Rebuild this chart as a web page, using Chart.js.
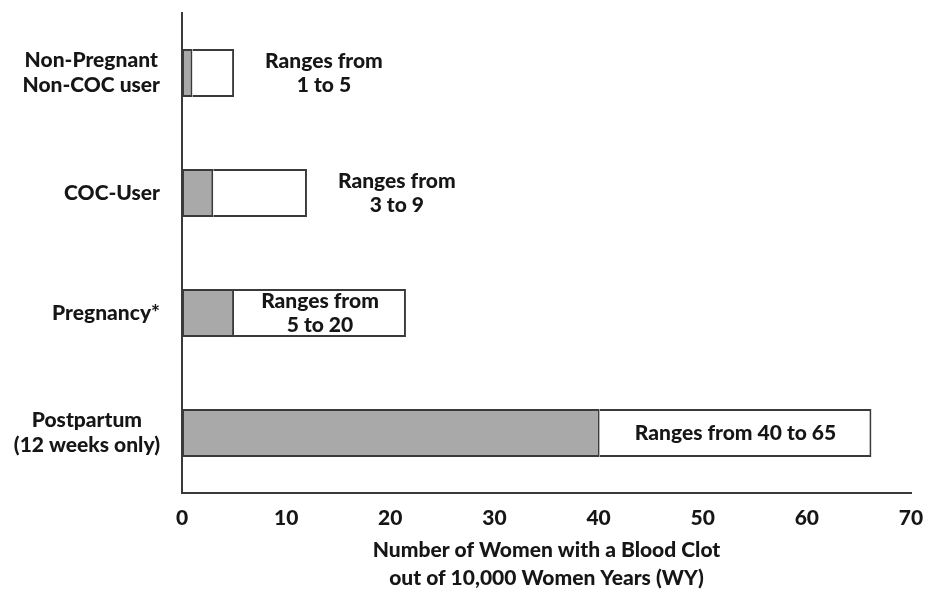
<!DOCTYPE html>
<html>
<head>
<meta charset="utf-8">
<script src="https://cdn.jsdelivr.net/npm/chart.js@4.4.1/dist/chart.umd.min.js"></script>
<style>
  html, body { margin: 0; padding: 0; background: #fff; }
  #wrap { width: 925px; height: 592px; position: relative; }
</style>
</head>
<body>
<div id="wrap"><canvas id="c" width="925" height="592"></canvas></div>
<script>
// ---- Data ----
const categories = [
  ['Non-Pregnant', 'Non-COC user'],
  ['COC-User'],
  ['Pregnancy*'],
  ['Postpartum', '(12 weeks only)']
];
const lowerValues = [1, 3, 5, 40.1];      // grey segment
const upperEnds   = [5, 12, 21.5, 66.2];  // end of white segment
const rangeLabels = [
  ['Ranges from', '1 to 5'],
  ['Ranges from', '3 to 9'],
  ['Ranges from', '5 to 20'],
  ['Ranges from 40 to 65']
];
const xMin = 0, xMax = 70, xStep = 10;
const xTitle = ['Number of Women with a Blood Clot', 'out of 10,000 Women Years (WY)'];

const upperValues = upperEnds.map((v, i) => v - lowerValues[i]);

const FONT = "Lato, 'Liberation Sans Narrow', 'DejaVu Sans Condensed', sans-serif";
const WEIGHT = 900;
const TEXT = '#161616';
const LINE = '#3a3a3a';

const labelPlugin = {
  id: 'customLabels',
  afterDatasetsDraw(chart) {
    const ctx = chart.ctx;
    const xs = chart.scales.x, ys = chart.scales.y;
    ctx.save();
    ctx.fillStyle = TEXT;
    ctx.textBaseline = 'middle';
    ctx.textAlign = 'center';
    ctx.font = WEIGHT + ' 21px ' + FONT;
    // category labels on the left: block right-aligned, lines centred
    const rightEdge = xs.left - 22;
    categories.forEach((lines, i) => {
      const cy = ys.getPixelForValue(i);
      const w = Math.max(...lines.map(t => ctx.measureText(t).width));
      const cx = rightEdge - w / 2;
      const lh = 25;
      lines.forEach((t, k) => {
        ctx.fillText(t, cx, cy + (k - (lines.length - 1) / 2) * lh);
      });
    });
    // range annotations
    rangeLabels.forEach((lines, i) => {
      const cy = ys.getPixelForValue(i);
      const x0 = xs.getPixelForValue(lowerValues[i]);
      const x1 = xs.getPixelForValue(upperEnds[i]);
      const w = Math.max(...lines.map(t => ctx.measureText(t).width));
      let cx;
      if (w + 16 < x1 - x0) cx = (x0 + x1) / 2;
      else cx = x1 + 31 + w / 2;
      const lh = 24;
      lines.forEach((t, k) => {
        ctx.fillText(t, cx, cy + (k - (lines.length - 1) / 2) * lh);
      });
    });
    ctx.restore();
  }
};

new Chart(document.getElementById('c'), {
  type: 'bar',
  data: {
    labels: categories.map(c => c.join(' ')),
    datasets: [
      {
        data: lowerValues,
        backgroundColor: '#a9a9a9',
        borderColor: LINE,
        borderWidth: 2,
        borderSkipped: false
      },
      {
        data: upperValues,
        backgroundColor: '#ffffff',
        borderColor: LINE,
        borderWidth: { top: 2, right: 2, bottom: 2, left: 0 },
        borderSkipped: false
      }
    ]
  },
  options: {
    indexAxis: 'y',
    responsive: false,
    animation: false,
    devicePixelRatio: 1,
    layout: { padding: { top: 13, right: 14, bottom: 0, left: 0 } },
    datasets: { bar: { categoryPercentage: 1.0, barPercentage: 0.4 } },
    plugins: {
      legend: { display: false },
      tooltip: { enabled: false }
    },
    scales: {
      x: {
        stacked: true,
        min: xMin,
        max: xMax,
        grid: { display: false, drawTicks: false },
        border: { display: true, color: LINE, width: 2 },
        ticks: {
          stepSize: xStep,
          padding: 13,
          color: TEXT,
          font: { family: FONT, size: 21, weight: WEIGHT }
        },
        title: {
          display: true,
          text: xTitle,
          color: TEXT,
          padding: { top: 4, bottom: 0 },
          font: { family: FONT, size: 21, weight: WEIGHT, lineHeight: '28px' }
        },
        afterFit(s) { s.height = 99; s.paddingLeft = 0; s.paddingRight = 0; }
      },
      y: {
        stacked: true,
        grid: { display: false, drawTicks: false },
        border: { display: true, color: LINE, width: 2 },
        ticks: { display: false },
        afterFit(s) { s.width = 182; }
      }
    }
  },
  plugins: [labelPlugin]
});
</script>
</body>
</html>
